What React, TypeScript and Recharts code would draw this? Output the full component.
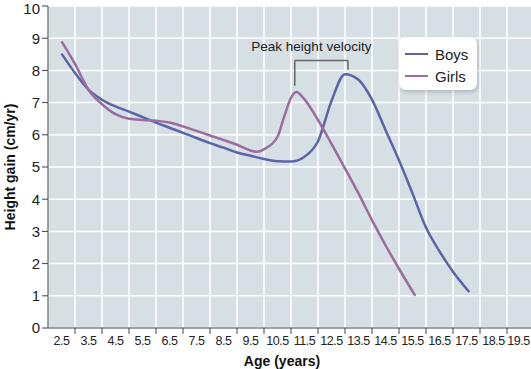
import React from 'react';
import {
  LineChart,
  Line,
  XAxis,
  YAxis,
  CartesianGrid,
  Legend,
  ReferenceLine,
} from 'recharts';

const boysAges = [2.5, 3, 3.5, 4, 4.5, 5, 5.5, 6, 6.5, 7, 7.5, 8, 8.5, 9, 9.5, 10, 10.5, 11, 11.5, 12, 12.5, 13, 13.5, 14, 14.5, 15, 15.5, 16, 16.5, 17, 17.5, 17.6];
const boysGain = [8.52, 7.92, 7.4, 7.09, 6.88, 6.72, 6.55, 6.38, 6.22, 6.06, 5.9, 5.74, 5.6, 5.45, 5.35, 5.25, 5.18, 5.17, 5.32, 5.8, 7.05, 7.88, 7.71, 7.09, 6.15, 5.21, 4.18, 3.12, 2.38, 1.75, 1.22, 1.12];

const girlsAges = [2.5, 3, 3.5, 4, 4.5, 5, 5.5, 6, 6.5, 7, 7.5, 8, 8.5, 9, 9.5, 9.75, 10, 10.5, 10.75, 11, 11.2, 11.5, 12, 12.5, 13, 13.5, 14, 14.5, 15, 15.6];
const girlsGain = [8.9, 8.2, 7.4, 6.95, 6.64, 6.5, 6.46, 6.44, 6.38, 6.26, 6.12, 5.98, 5.84, 5.69, 5.51, 5.47, 5.55, 5.94, 6.57, 7.15, 7.33, 7.1, 6.46, 5.72, 4.96, 4.18, 3.35, 2.57, 1.84, 1.0];

// tick marks sit on whole years, labels sit half way between them
const yearTicks = [3, 4, 5, 6, 7, 8, 9, 10, 11, 12, 13, 14, 15, 16, 17, 18, 19, 20];
const gainTicks = [0, 1, 2, 3, 4, 5, 6, 7, 8, 9, 10];

const boysData = boysAges.map((age, i) => ({ age, gain: boysGain[i] }));
const girlsData = girlsAges.map((age, i) => ({ age, gain: girlsGain[i] }));

const FONT = '"Liberation Sans", Arial, sans-serif';
const BOYS = '#5b64a8';
const GIRLS = '#9b6c9e';
const HALF_YEAR_PX = 13.5;

const AgeTick = (props: any) => {
  const { x, y, payload } = props;
  return (
    <text
      x={x - HALF_YEAR_PX}
      y={y}
      dy="0.71em"
      textAnchor="middle"
      fontSize={12.5}
      letterSpacing={-0.5}
      fill="#222"
      fontFamily={FONT}
    >
      {(payload.value - 0.5).toFixed(1)}
    </text>
  );
};

const LegendBox = () => (
  <div
    style={{
      background: '#fff',
      borderRadius: 7,
      boxShadow: '1px 2px 4px rgba(0,0,0,0.18)',
      width: 78,
      height: 53,
      boxSizing: 'border-box',
      padding: '6px 0 0 6px',
      fontFamily: FONT,
      fontSize: 15,
      color: '#222',
    }}
  >
    {[
      { name: 'Boys', color: BOYS },
      { name: 'Girls', color: GIRLS },
    ].map((s) => (
      <div key={s.name} style={{ display: 'flex', alignItems: 'center', height: 22 }}>
        <span style={{ display: 'inline-block', width: 23, height: 2.5, background: s.color, marginRight: 7 }} />
        {s.name}
      </div>
    ))}
  </div>
);

export default function App() {
  return (
    <div style={{ position: 'absolute', left: 0, top: 0, width: 531, height: 369, overflow: 'hidden', background: '#fff' }}>
      <LineChart
        width={540}
        height={369}
        margin={{ top: 6, right: 6, bottom: 0, left: 0 }}
        style={{ fontFamily: FONT }}
      >
        <CartesianGrid fill="#d6dfe4" stroke="#fff" strokeWidth={1.5} />
        <XAxis
          type="number"
          dataKey="age"
          domain={[2, 20]}
          ticks={yearTicks}
          allowDataOverflow
          height={41}
          tick={<AgeTick />}
          tickLine={{ stroke: '#444' }}
          axisLine={{ stroke: '#444' }}
          label={{
            value: 'Age (years)',
            position: 'insideBottom',
            offset: 3,
            dx: -9,
            style: { fontWeight: 'bold', fontSize: 14, fill: '#111', fontFamily: FONT },
          }}
        />
        <YAxis
          type="number"
          domain={[0, 10]}
          ticks={gainTicks}
          width={48}
          tick={{ fontSize: 15, fill: '#222', fontFamily: FONT }}
          tickLine={{ stroke: '#444' }}
          axisLine={{ stroke: '#444' }}
          label={{
            value: 'Height gain (cm/yr)',
            angle: -90,
            position: 'insideLeft',
            offset: 10,
            style: { fontWeight: 'bold', fontSize: 14, fill: '#111', textAnchor: 'middle', fontFamily: FONT },
          }}
        />
        <Legend
          layout="vertical"
          align="center"
          verticalAlign="middle"
          content={<LegendBox />}
          wrapperStyle={{ left: 399, top: 37, width: 78 }}
        />
        <ReferenceLine
          segment={[{ x: 11.14, y: 8.31 }, { x: 13.11, y: 8.31 }]}
          stroke="#666"
          strokeWidth={1.5}
          label={{
            value: 'Peak height velocity',
            position: 'top',
            offset: 9,
            dx: -10,
            style: { fontSize: 13.5, fill: '#222', fontFamily: FONT },
          }}
        />
        <ReferenceLine segment={[{ x: 11.14, y: 8.31 }, { x: 11.14, y: 7.52 }]} stroke="#666" strokeWidth={1.5} />
        <ReferenceLine segment={[{ x: 13.11, y: 8.31 }, { x: 13.11, y: 8.02 }]} stroke="#666" strokeWidth={1.5} />
        <Line
          data={boysData}
          dataKey="gain"
          name="Boys"
          type="monotone"
          stroke={BOYS}
          strokeWidth={2.5}
          dot={false}
          isAnimationActive={false}
        />
        <Line
          data={girlsData}
          dataKey="gain"
          name="Girls"
          type="monotone"
          stroke={GIRLS}
          strokeWidth={2.5}
          dot={false}
          isAnimationActive={false}
        />
      </LineChart>
    </div>
  );
}
